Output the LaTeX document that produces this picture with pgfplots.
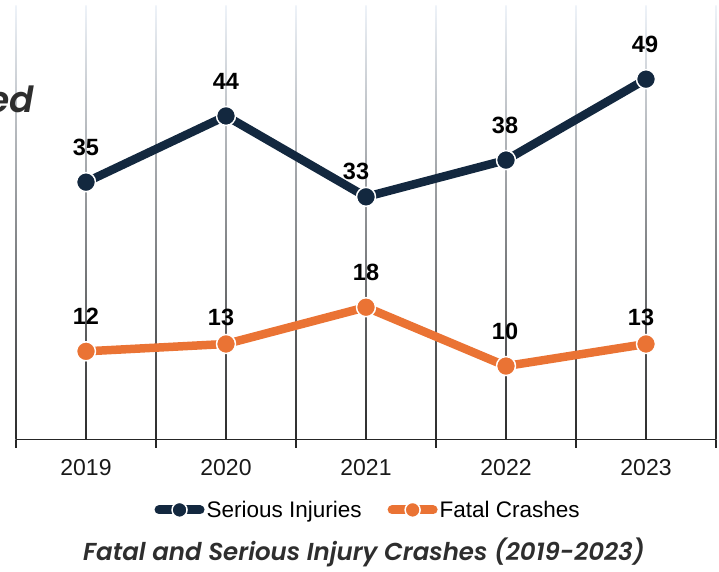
\documentclass[border=0pt]{standalone}
\usepackage{fontspec}
\setmainfont{Liberation Sans}
\newfontfamily\capfont{Poppins SemiBold Italic}
\usepackage{pgfplots}
\usepackage{pgfplotstable}
\pgfplotsset{compat=1.18}
\definecolor{navy}{HTML}{13283F}
\definecolor{orng}{HTML}{EA7334}
\definecolor{capgray}{HTML}{2E2E2E}
\definecolor{gridtop}{HTML}{EEF3F9}
\definecolor{gridmid}{HTML}{9A9EA3}
\definecolor{gridbot}{HTML}{2A2A2A}

\pgfplotstableread{
x y dx dy
0 35 0 35
1 44 0 35
2 33 -10 25
3 38 -1 35
4 49 -1 35
}\serious
\pgfplotstableread{
x y dx dy
0 12 0 35
1 13 -5 27
2 18 0 35
3 10 -1 35
4 13 -5 27
}\fatal

\begin{document}
\begin{tikzpicture}
\useasboundingbox (0pt,0pt) rectangle (719pt,571pt);
\clip (0pt,0pt) rectangle (719pt,571pt);
\begin{axis}[
  at={(16pt,131.4pt)}, anchor=south west,
  scale only axis, width=700pt, height=434pt,
  xmin=-0.5, xmax=4.5, ymin=0, ymax=59,
  clip=false,
  axis x line=bottom, axis y line=none,
  axis line style={line width=1.2pt, black!85, -},
  xtick={0,...,4}, xticklabels={2019,2020,2021,2022,2023},
  major tick length=0pt,
  extra x ticks={-0.5,0.5,1.5,2.5,3.5,4.5}, extra x tick labels={},
  extra x tick style={major tick length=8pt, tick align=outside, tick style={line width=1.2pt, black!85}},
  ytick=\empty,
  /pgf/number format/assume math mode=true,
  xticklabel style={font=\fontsize{23}{26}\selectfont, text=black!90, yshift=-16pt},
  legend style={at={(0.503,-0.162)}, anchor=center, draw=none, fill=none,
    legend columns=2, font=\fontsize{22.5}{26}\selectfont,
    /tikz/every even column/.append style={column sep=24pt},
    legend cell align=left},
]
\pgfplotsinvokeforeach{-0.5,0,0.5,1,1.5,2,2.5,3,3.5,4,4.5}{
  \shade[top color=gridtop, middle color=gridmid, bottom color=gridbot]
    ([xshift=-0.6pt]axis cs:#1,0) rectangle ([xshift=0.6pt]axis cs:#1,59);
}
\addplot[navy, line width=8.5pt, line join=round, mark=*, mark size=9.5pt,
  mark options={fill=navy, draw=white, line width=1.5pt},
  visualization depends on={\thisrow{dx} \as \dx},
  visualization depends on={\thisrow{dy} \as \dy},
  nodes near coords,
  every node near coord/.style={anchor=center, xshift=\dx pt, yshift=\dy pt,
    font=\fontsize{23.5}{26}\selectfont\bfseries, text=black},
  legend image code/.code={
    \draw[navy, line width=9pt, line cap=round] (4.5pt,0pt) -- (45.5pt,0pt);
    \fill[navy, draw=white, line width=1.5pt] (25pt,0pt) circle (7.5pt);
  }] table[x=x,y=y]{\serious};
\addlegendentry{Serious Injuries}
\addplot[orng, line width=8.5pt, line join=round, mark=*, mark size=9.5pt,
  mark options={fill=orng, draw=white, line width=1.5pt},
  visualization depends on={\thisrow{dx} \as \dx},
  visualization depends on={\thisrow{dy} \as \dy},
  nodes near coords,
  every node near coord/.style={anchor=center, xshift=\dx pt, yshift=\dy pt,
    font=\fontsize{23.5}{26}\selectfont\bfseries, text=black},
  legend image code/.code={
    \draw[orng, line width=9pt, line cap=round] (4.5pt,0pt) -- (45.5pt,0pt);
    \fill[orng, draw=white, line width=1.5pt] (25pt,0pt) circle (7.5pt);
  }] table[x=x,y=y]{\fatal};
\addlegendentry{Fatal Crashes}
\end{axis}
\node[anchor=base, font=\capfont\fontsize{24.5}{28}\selectfont, text=capgray, inner sep=0pt]
  at (364pt,11pt) {Fatal and Serious Injury Crashes (2019-2023)};
\node[anchor=base east, font=\capfont\fontsize{36}{40}\selectfont, text=capgray, inner sep=0pt]
  at (34pt,458pt) {ed};
\end{tikzpicture}
\end{document}
